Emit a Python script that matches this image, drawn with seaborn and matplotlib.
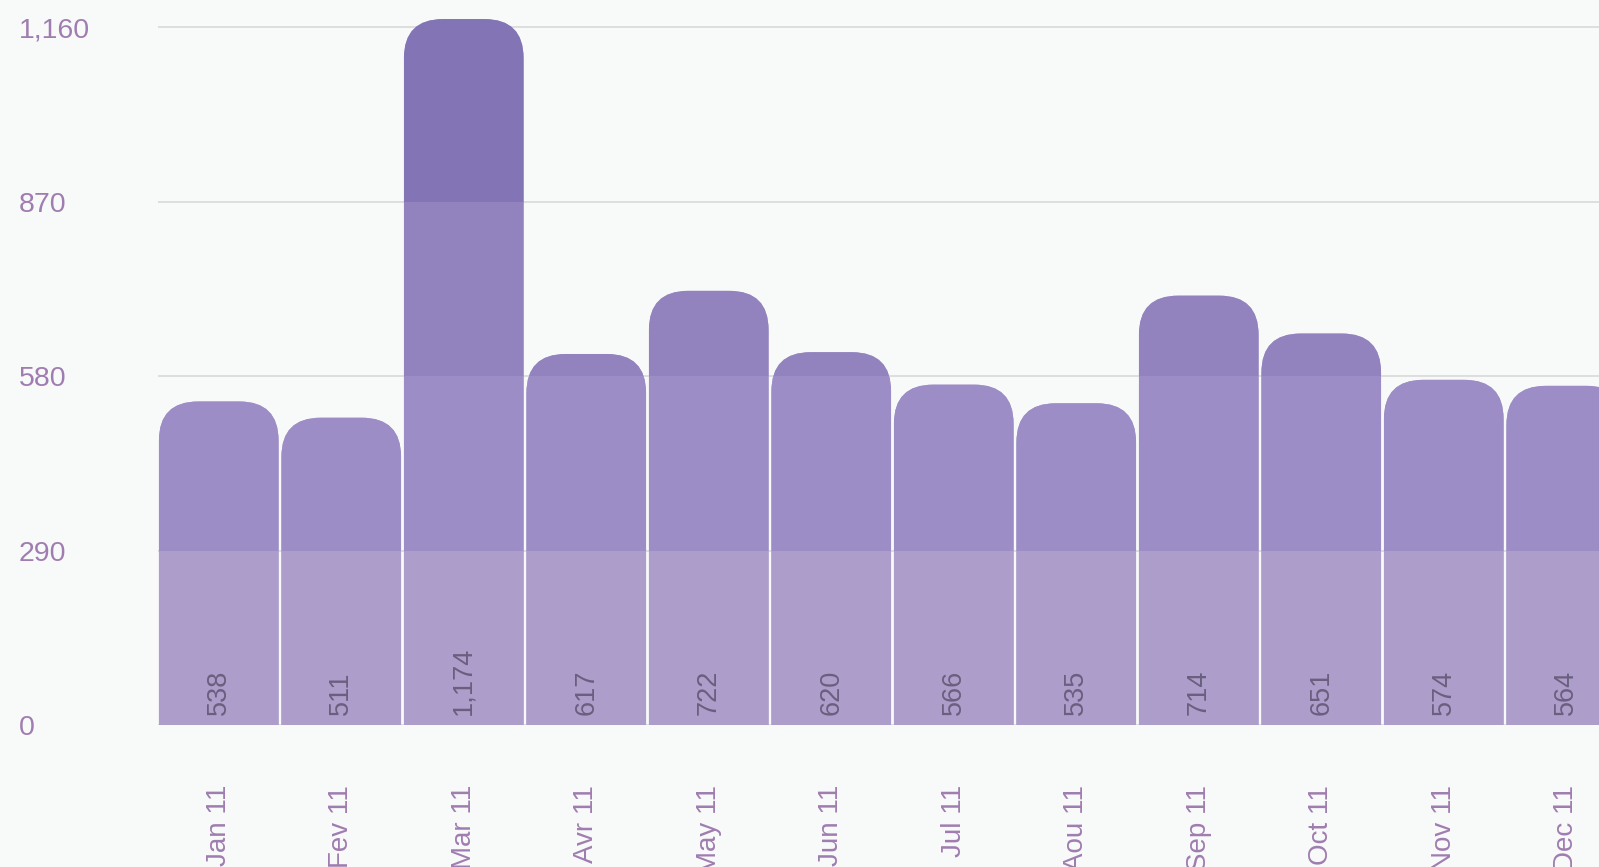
import matplotlib
matplotlib.use("Agg")
import matplotlib.pyplot as plt
from matplotlib.patches import FancyBboxPatch, Rectangle
import seaborn as sns

# monthly values
months = ["Jan 11", "Fev 11", "Mar 11", "Avr 11", "May 11", "Jun 11",
          "Jul 11", "Aou 11", "Sep 11", "Oct 11", "Nov 11", "Dec 11"]
values = [538, 511, 1174, 617, 722, 620, 566, 535, 714, 651, 574, 564]
y_ticks = [0, 290, 580, 870, 1160]

# colour bands by value range (bottom to top)
band_edges = [0, 290, 580, 870, 5000]
band_colors = ["#ad9dcb", "#9d8dc6", "#9283bf", "#8375b5"]

bg = "#f8f9f9"
label_col = "#a07db0"
value_col = "#6a5f7e"

sns.set_theme(style="white")
plt.rcParams["font.family"] = ["Liberation Sans", "DejaVu Sans"]

fig = plt.figure(figsize=(15.99, 8.67), dpi=100, facecolor=bg)
ax = fig.add_axes([157.5 / 1599, 142 / 867, 1470 / 1599, 725 / 867])
ax.set_facecolor(bg)

sns.barplot(x=months, y=values, color=band_colors[0], width=0.977,
            saturation=1, ax=ax, zorder=2)

ax.set_xlim(-0.5, 11.5)
ax.set_ylim(0, 1205.7)

# y units per x unit at equal pixel size, for circular corners
fig.canvas.draw()
p0 = ax.transData.transform((0, 0))
p1 = ax.transData.transform((1, 1))
aspect = (p1[0] - p0[0]) / (p1[1] - p0[1])

bars = list(ax.patches)
for bar in bars:
    x, w, h = bar.get_x(), bar.get_width(), bar.get_height()
    bar.remove()
    shape = FancyBboxPatch((x, -200), w, h + 200,
                           boxstyle="round,pad=0,rounding_size=0.32",
                           mutation_aspect=aspect,
                           facecolor=band_colors[0], edgecolor="none", zorder=2)
    ax.add_patch(shape)
    for lo, hi, c in zip(band_edges[:-1], band_edges[1:], band_colors):
        if h <= lo:
            continue
        r = Rectangle((x, lo), w, hi - lo, facecolor=c, edgecolor="none", zorder=3)
        ax.add_patch(r)
        r.set_clip_path(shape)

for i, v in enumerate(values):
    ax.annotate(f"{v:,}", (i, 0), xytext=(0, 7), textcoords="offset points",
                rotation=90, ha="center", va="bottom", fontsize=19.5,
                color=value_col, zorder=5)

ax.set_yticks(y_ticks)
ax.set_yticklabels([f"{t:,}" for t in y_ticks])
for t in ax.get_yticklabels():
    t.set_ha("left")
ax.tick_params(axis="y", length=0, pad=100, labelsize=20.5, labelcolor=label_col)
ax.tick_params(axis="x", length=0, pad=43, labelsize=20, labelcolor=label_col,
               labelrotation=90)

ax.grid(axis="y", color="#dcdcdc", linewidth=1.3, zorder=0)
ax.set_axisbelow(True)
for s in ax.spines.values():
    s.set_visible(False)
ax.set_xlabel("")
ax.set_ylabel("")

fig.savefig("out.png", dpi=100, facecolor=bg)
